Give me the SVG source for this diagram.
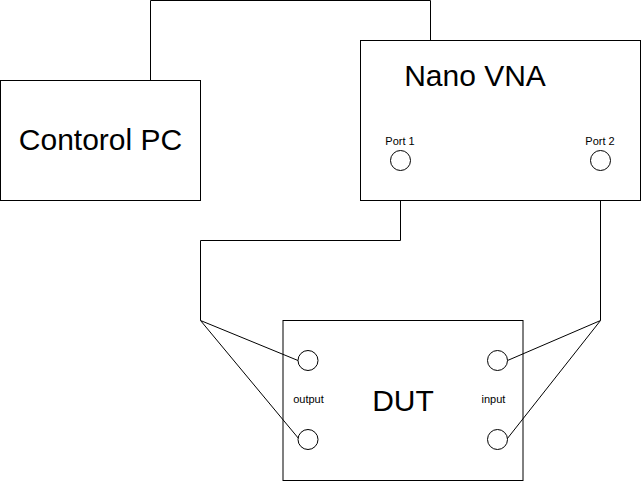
<svg xmlns="http://www.w3.org/2000/svg" width="641" height="481" viewBox="0 0 641 481">
<style>
.box{fill:#fff;stroke:#000;stroke-width:1}
.port{fill:#fff;stroke:#000;stroke-width:1}
.wire{fill:none;stroke:#000;stroke-width:1}
.big{font-family:"Liberation Sans",Arial,sans-serif;font-size:30px;fill:#000;text-anchor:middle}
.small{font-family:"Liberation Sans",Arial,sans-serif;font-size:11px;fill:#000;text-anchor:middle}
</style>
<rect width="641" height="481" fill="#fff"/>
<g id="connectors">
<path class="wire" d="M150.5,80.5 V0.5 H430.5 V40.5"/>
<path class="wire" d="M400.5,170.5 V240.5 H200.5 V320.5"/>
<path class="wire" d="M600.5,170.5 V320.5"/>
</g>
<g id="pc">
<rect class="box" x="0.5" y="80.5" width="200" height="120"/>
<text class="big" x="100.5" y="150">Contorol PC</text>
</g>
<g id="vna">
<rect class="box" x="360.5" y="40.5" width="280" height="160"/>
<text class="big" x="475" y="86">Nano VNA</text>
<text class="small" x="400" y="145">Port 1</text>
<text class="small" x="600" y="145">Port 2</text>
</g>
<g id="port1"><circle class="port" cx="400.5" cy="160.5" r="10"/></g>
<g id="port2"><circle class="port" cx="600.5" cy="160.5" r="10"/></g>
<g id="dut">
<rect class="box" x="283" y="320.5" width="240" height="160"/>
<text class="big" x="403" y="411">DUT</text>
<text class="small" x="308.5" y="403">output</text>
<text class="small" x="493.5" y="403">input</text>
</g>
<g id="dut-connectors">
<path class="wire" d="M200.5,320.5 L298,360.5 M200.5,320.5 L299,439"/>
<path class="wire" d="M600.5,320.5 L507.5,360.5 M600.5,320.5 L507,439"/>
</g>
<g id="out1"><circle class="port" cx="308" cy="360.5" r="10"/></g>
<g id="out2"><circle class="port" cx="308" cy="439.5" r="10"/></g>
<g id="in1"><circle class="port" cx="497.5" cy="360.5" r="10"/></g>
<g id="in2"><circle class="port" cx="497.5" cy="439.5" r="10"/></g>
</svg>
